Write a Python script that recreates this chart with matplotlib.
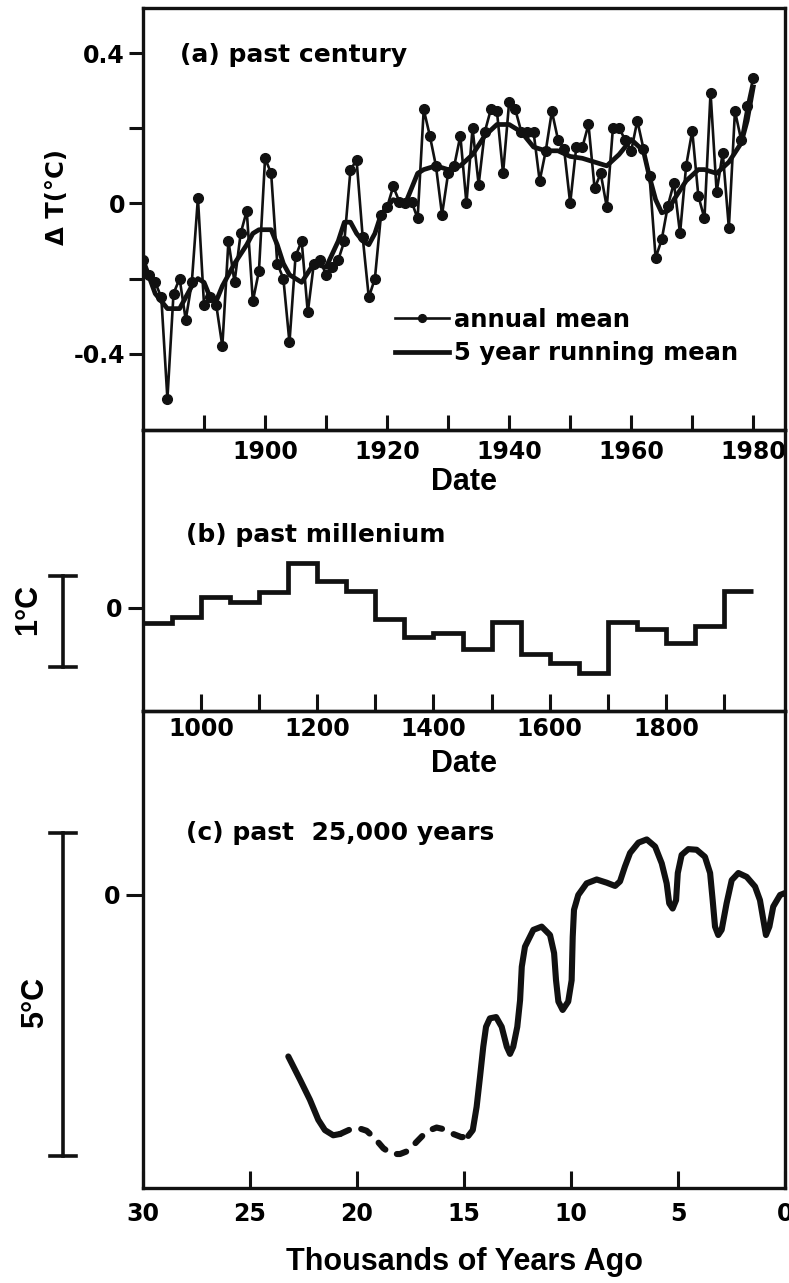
import numpy as np
import matplotlib.pyplot as plt
from matplotlib import transforms

# (a) global mean temperature change over the past century
years_a = np.arange(1880, 1981)
annual_mean = [
    -0.15, -0.19, -0.21, -0.25, -0.52, -0.24, -0.20, -0.31, -0.21, 0.015,
    -0.27, -0.25, -0.27, -0.38, -0.10, -0.21, -0.08, -0.02, -0.26, -0.18,
    0.12, 0.08, -0.16, -0.20, -0.37, -0.14, -0.10, -0.29, -0.16, -0.15,
    -0.19, -0.17, -0.15, -0.10, 0.09, 0.115, -0.09, -0.25, -0.20, -0.03,
    -0.01, 0.045, 0.005, 0.00, 0.005, -0.04, 0.25, 0.18, 0.10, -0.03,
    0.08, 0.10, 0.18, 0.00, 0.20, 0.05, 0.19, 0.25, 0.245, 0.08,
    0.27, 0.25, 0.19, 0.19, 0.19, 0.06, 0.14, 0.245, 0.17, 0.145,
    0.00, 0.15, 0.15, 0.21, 0.04, 0.08, -0.01, 0.20, 0.20, 0.17,
    0.14, 0.22, 0.146, 0.073, -0.145, -0.096, -0.007, 0.055, -0.08, 0.10,
    0.193, 0.02, -0.04, 0.295, 0.03, 0.135, -0.065, 0.246, 0.17, 0.26,
    0.335,
]
run_years = [1880, 1882, 1884, 1886, 1888, 1889, 1890, 1891, 1892, 1893,
             1895, 1897, 1898, 1899, 1901, 1902, 1903, 1904, 1906, 1908,
             1910, 1912, 1913, 1914, 1915, 1916, 1917, 1918, 1919, 1921,
             1923, 1924, 1925, 1926, 1928, 1930, 1932, 1934, 1936, 1938,
             1940, 1942, 1944, 1946, 1948, 1950, 1952, 1954, 1956, 1958,
             1960, 1962, 1963, 1964, 1965, 1966, 1967, 1969, 1971, 1972,
             1974, 1976, 1978, 1979, 1980]
run_mean = [-0.15, -0.24, -0.28, -0.28, -0.22, -0.20, -0.21, -0.25, -0.26, -0.22,
            -0.16, -0.11, -0.08, -0.07, -0.07, -0.11, -0.16, -0.19, -0.21, -0.16,
            -0.17, -0.10, -0.05, -0.05, -0.08, -0.10, -0.11, -0.08, -0.03, 0.01,
            0.00, 0.04, 0.08, 0.09, 0.10, 0.09, 0.10, 0.13, 0.18, 0.21,
            0.21, 0.19, 0.15, 0.14, 0.14, 0.125, 0.12, 0.11, 0.10, 0.13,
            0.17, 0.14, 0.07, 0.01, -0.025, -0.02, 0.01, 0.06, 0.09, 0.09,
            0.08, 0.11, 0.16, 0.22, 0.31]

# (b) 50-year means over the past millenium
mill_edges = np.arange(900, 1951, 50)
mill_temp = [-0.17, -0.10, 0.12, 0.07, 0.18, 0.49, 0.30, 0.19, -0.12, -0.32,
             -0.27, -0.45, -0.15, -0.51, -0.61, -0.71, -0.15, -0.23, -0.39, -0.20,
             0.19]

# (c) past 25,000 years (thousands of years ago, deg C)
glac_kyr = [23.21, 22.66, 22.20, 21.81, 21.50, 21.11, 20.79]
glac_temp = [-2.50, -2.86, -3.17, -3.48, -3.64, -3.72, -3.70]
lgm_kyr = [20.79, 20.33, 20.01, 19.55, 19.16, 18.77, 18.38, 17.99, 17.60, 17.21,
           16.74, 16.28, 15.89, 15.50, 15.11, 14.80]
lgm_temp = [-3.70, -3.63, -3.60, -3.65, -3.77, -3.92, -4.01, -4.01, -3.96, -3.82,
            -3.66, -3.60, -3.63, -3.70, -3.75, -3.73]
holo_kyr = [14.80, 14.59, 14.41, 14.25, 14.10, 13.97, 13.79, 13.50, 13.24, 13.00,
            12.85, 12.70, 12.51, 12.38, 12.30, 12.15, 11.76, 11.37, 10.98, 10.79,
            10.70, 10.59, 10.39, 10.13, 9.97, 9.92, 9.86, 9.66, 9.27, 8.80,
            8.33, 7.94, 7.71, 7.48, 7.24, 6.85, 6.46, 6.07, 5.76, 5.53,
            5.41, 5.25, 5.09, 5.01, 4.83, 4.52, 4.13, 3.74, 3.50, 3.38,
            3.27, 3.12, 2.96, 2.73, 2.49, 2.18, 1.79, 1.40, 1.17, 1.01,
            0.89, 0.73, 0.55, 0.23, 0.0]
holo_temp = [-3.73, -3.64, -3.28, -2.81, -2.35, -2.04, -1.91, -1.89, -2.04, -2.35,
             -2.46, -2.35, -2.04, -1.63, -1.11, -0.80, -0.54, -0.49, -0.62, -0.90,
             -1.32, -1.65, -1.78, -1.65, -1.32, -0.65, -0.23, 0.00, 0.18, 0.24,
             0.19, 0.14, 0.21, 0.44, 0.65, 0.81, 0.86, 0.75, 0.49, 0.18,
             -0.13, -0.21, -0.08, 0.34, 0.62, 0.71, 0.70, 0.59, 0.34, -0.08,
             -0.49, -0.62, -0.54, -0.13, 0.23, 0.34, 0.28, 0.13, -0.08, -0.39,
             -0.62, -0.49, -0.18, 0.00, 0.03]

ink = '#111111'
plt.rcParams['font.family'] = 'DejaVu Sans'
plt.rcParams['font.weight'] = 'bold'
tick_font = 17
label_font = {'family': 'Liberation Sans', 'weight': 'bold', 'size': 22}

fig = plt.figure(figsize=(7.89, 12.83), dpi=100)
W, H = 789, 1283
left, width = 143 / W, 642 / W
ax_a = fig.add_axes([left, 1 - 430 / H, width, 422 / H])
ax_b = fig.add_axes([left, 1 - 711 / H, width, 281 / H])
ax_c = fig.add_axes([left, 1 - 1188 / H, width, 477 / H])

for ax in (ax_a, ax_b, ax_c):
    ax.patch.set_alpha(0)
    for s in ax.spines.values():
        s.set_linewidth(2.4)
        s.set_color(ink)
    ax.tick_params(axis='x', direction='in', length=11, width=2.2, color=ink,
                   labelsize=tick_font, pad=7)
    ax.tick_params(axis='y', direction='out', length=10, width=2.2, color=ink,
                   labelsize=tick_font, pad=3)

# (a)
ax_a.plot(years_a, annual_mean, '-o', color=ink, lw=1.9, ms=7,
          label='annual mean')
ax_a.plot(run_years, run_mean, '-', color=ink, lw=3.4,
          label='5 year running mean')
ax_a.set_xlim(1880, 1985.2)
ax_a.set_ylim(-0.603, 0.52)
ax_a.set_xticks(np.arange(1890, 1981, 10),
                labels=[str(y) if y % 20 == 0 else '' for y in range(1890, 1981, 10)])
ax_a.set_yticks([-0.4, -0.2, 0, 0.2, 0.4], labels=['-0.4', '', '0', '', '0.4'])
ax_a.set_xlabel('Date', fontdict=label_font, labelpad=2)
ax_a.text(0.058, 0.889, '(a) past century', transform=ax_a.transAxes,
          fontsize=18, va='center', ha='left')
ax_a.legend(loc='upper left', bbox_to_anchor=(0.393, 0.29), frameon=False,
            fontsize=17.5, handlelength=2.2, handletextpad=0.2,
            labelspacing=0.4, borderpad=0, borderaxespad=0, numpoints=1,
            markerscale=0.8)
fig.text(57 / W, 1 - 197 / H, 'Δ T(°C)', rotation=90, ha='center',
         va='center', fontsize=17.5)

# (b)
ax_b.stairs(mill_temp, mill_edges, color=ink, lw=3.4, baseline=None)
ax_b.set_xlim(900, 2005)
ax_b.set_ylim(-1.132, 1.956)
ax_b.set_xticks(np.arange(1000, 1901, 100),
                labels=[str(y) if y % 200 == 0 else '' for y in range(1000, 1901, 100)])
ax_b.set_yticks([0], labels=['0'])
ax_b.tick_params(axis='y', length=11, pad=4)
ax_b.tick_params(axis='x', length=12, pad=4)
ax_b.set_xlabel('Date', fontdict=label_font, labelpad=6)
ax_b.text(0.067, 0.625, '(b) past millenium', transform=ax_b.transAxes,
          fontsize=18, va='center', ha='left')

# (c)
ax_c.plot(glac_kyr, glac_temp, color=ink, lw=4.4, solid_capstyle='round')
ax_c.plot(lgm_kyr, lgm_temp, color=ink, lw=4.4, linestyle=(0, (1.6, 2.1)),
          dash_capstyle='round')
ax_c.plot(holo_kyr, holo_temp, color=ink, lw=4.4, solid_capstyle='round',
          solid_joinstyle='round')
ax_c.set_xlim(30, 0)
ax_c.set_ylim(-4.536, 2.848)
ax_c.set_xticks([30, 25, 20, 15, 10, 5, 0])
ax_c.set_yticks([0], labels=['0'])
ax_c.tick_params(axis='y', length=12, pad=4)
ax_c.tick_params(axis='x', length=12, pad=10)
ax_c.set_xlabel('Thousands of Years Ago', fontdict=label_font, labelpad=15)
ax_c.text(0.067, 0.745, '(c) past  25,000 years', transform=ax_c.transAxes,
          fontsize=18, va='center', ha='left')


def scale_bar(ax, lo, span, text, text_x, text_y):
    trans = transforms.blended_transform_factory(ax.transAxes, ax.transData)
    bx, cap = -0.1246, 0.021
    kw = dict(transform=trans, clip_on=False, color=ink, lw=2.6)
    ax.plot([bx, bx], [lo, lo + span], **kw)
    ax.plot([bx - cap, bx + cap], [lo, lo], **kw)
    ax.plot([bx - cap, bx + cap], [lo + span, lo + span], **kw)
    ax.text(text_x, text_y, text, transform=trans, rotation=90,
            ha='center', va='center', fontdict=label_font)


scale_bar(ax_b, -0.65, 1.0, '1°C', -0.179, -0.02)
scale_bar(ax_c, -4.04, 5.0, '5°C', -0.168, -1.66)

fig.savefig('out.png', dpi=100, facecolor='white')
